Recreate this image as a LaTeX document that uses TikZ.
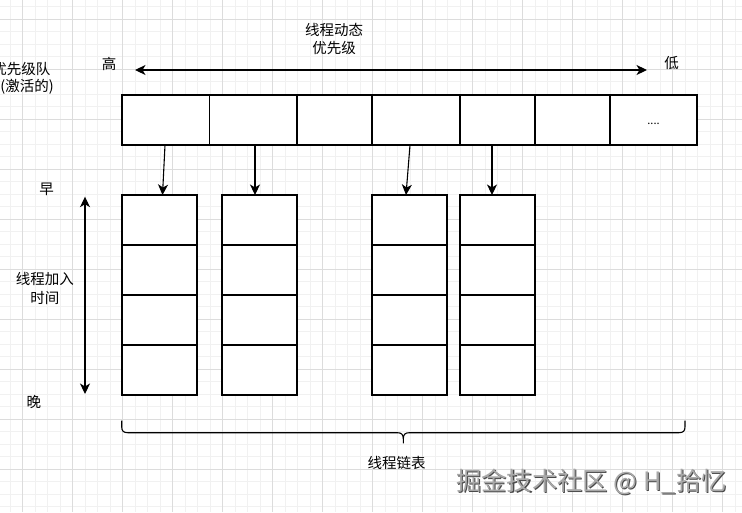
\documentclass[tikz,border=0pt]{standalone}
\usepackage{fontspec}
\setmainfont{Noto Sans CJK SC}
\usetikzlibrary{arrows.meta}
\definecolor{gridminor}{HTML}{F1F1F1}
\definecolor{gridmajor}{HTML}{DCDCDC}
\definecolor{wmfill}{HTML}{A8A8A8}
\definecolor{wmshadow}{HTML}{4A4A4A}
\tikzset{
  cellbox/.style={draw=black, fill=white, line width=1.1pt, minimum height=50pt, inner sep=0pt, outer sep=0pt},
  lbl/.style={inner sep=0pt, font=\fontsize{14.5}{18.5}\selectfont, align=center},
  arr/.style={line width=1.1pt, -{Stealth[length=10.5pt,width=10pt,inset=3pt]}},
  dblarr/.style={line width=1.1pt, {Stealth[length=10.5pt,width=10pt,inset=3pt]}-{Stealth[length=10.5pt,width=10pt,inset=3pt]}},
  wm/.style={inner sep=0pt, font=\fontsize{25.3}{25}\selectfont},
}
\begin{document}
\begin{tikzpicture}[x=1pt,y=-1pt]
\useasboundingbox (0,0) rectangle (742,512);
\clip (0,0) rectangle (742,512);
\fill[white] (0,0) rectangle (742,512);
% grid
\foreach \k in {-1,...,58} {\draw[gridminor, line width=0.8pt] ({22.7+12.5*\k},0) -- ({22.7+12.5*\k},512);}
\foreach \k in {-1,...,40} {\draw[gridminor, line width=0.8pt] (0,{19.3+12.5*\k}) -- (742,{19.3+12.5*\k});}
\foreach \k in {0,...,14} {\draw[gridmajor, line width=0.9pt] ({22.7+50*\k},0) -- ({22.7+50*\k},512);}
\foreach \k in {0,...,9} {\draw[gridmajor, line width=0.9pt] (0,{19.3+50*\k}) -- (742,{19.3+50*\k});}

% top row (priority queue)
\node[cellbox, minimum width=87.5pt, anchor=west] (p1) at (122,120) {};
\node[cellbox, minimum width=87.5pt, anchor=west] (p2) at (209.5,120) {};
\node[cellbox, minimum width=75pt, anchor=west] (p3) at (297,120) {};
\node[cellbox, minimum width=88pt, anchor=west] (p4) at (372,120) {};
\node[cellbox, minimum width=75pt, anchor=west] (p5) at (460,120) {};
\node[cellbox, minimum width=75pt, anchor=west] (p6) at (535,120) {};
\node[cellbox, minimum width=87pt, anchor=west, font=\fontsize{11}{12}\selectfont, text height=10pt, text depth=2pt] (p7) at (610,120) {....};

% thread lists
\foreach \c/\x in {1/159.5,2/259.5,3/409.5,4/497.5} {
  \foreach \r/\y in {1/220,2/270,3/320,4/370} {
    \node[cellbox, minimum width=75pt] (c\c-\r) at (\x,\y) {};
  }
}

% connectors
\draw[arr] ([xshift=-0.75pt]p1.south) -- ([xshift=3pt]c1-1.north);
\draw[arr] ([xshift=1.75pt]p2.south) -- ([xshift=-4.5pt]c2-1.north);
\draw[arr] ([xshift=-6pt]p4.south) -- ([xshift=-3.5pt]c3-1.north);
\draw[arr] ([xshift=-5.5pt]p5.south) -- ([xshift=-5.5pt]c4-1.north);

% labels
\node[lbl] (dyn) at (334,39.2) {线程动态\\优先级};
\node[lbl] (gao) at (109,63.5) {高};
\node[lbl] (di) at (671.5,63.5) {低};
\coordinate (hL) at (135,70);
\coordinate (hR) at (647,70);
\draw[dblarr] (hL) -- (hR);

\node[lbl, anchor=east] (q1) at (50.5,69) {优先级队};
\node[lbl, anchor=west] (q2) at (0.3,87) {(激活的)};

\node[lbl] (zao) at (46.7,189) {早};
\node[lbl] (wan) at (34,402) {晚};
\node[lbl] (jr) at (45,288.5) {线程加入\\时间};
\coordinate (vT) at (85,196.7);
\coordinate (vB) at (85,394);
\draw[dblarr] (vT) -- (vB);

% brace
\draw[line width=1.1pt, line join=round]
  (121.7,420.7) -- (121.7,426.7) .. controls (121.7,431) and (123.5,432.7) .. (127.7,432.7)
  -- (397.3,432.7) .. controls (401.5,432.7) and (403.3,434.5) .. (403.3,438.7) -- (403.3,443.3);
\draw[line width=1.1pt, line join=round]
  (685,420.7) -- (685,426.7) .. controls (685,431) and (683.2,432.7) .. (679,432.7)
  -- (409.3,432.7) .. controls (405.1,432.7) and (403.3,434.5) .. (403.3,438.7);
\node[lbl] (ll) at (396.5,462.7) {线程链表};

% watermark
\node[wm, text=wmshadow] (wms) at (592.6,482.8) {掘金技术社区 @ H\_拾忆};
\node[wm, text=wmfill] (wmt) at (591.5,481.7) {掘金技术社区 @ H\_拾忆};
\end{tikzpicture}
\end{document}
